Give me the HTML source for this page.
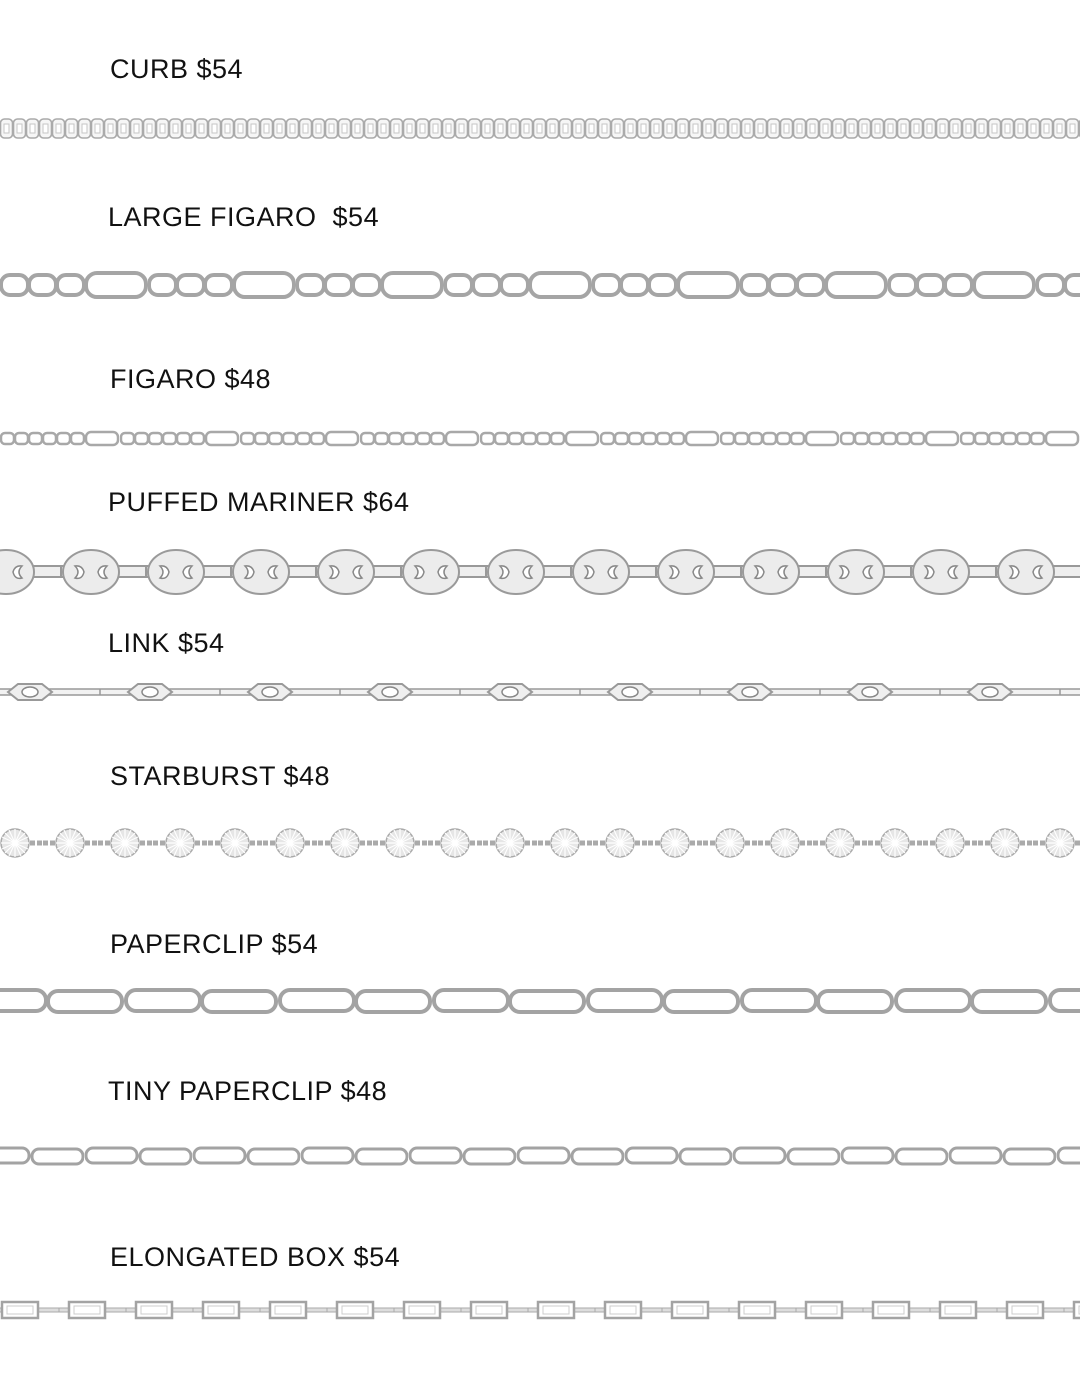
<!DOCTYPE html>
<html><head><meta charset="utf-8"><style>
html,body{margin:0;padding:0;background:#fff;}
body{width:1080px;height:1382px;position:relative;overflow:hidden;font-family:"Liberation Sans",sans-serif;}
.t{position:absolute;left:110px;font-size:27px;color:#111;letter-spacing:0.5px;line-height:1;white-space:pre;}
svg{position:absolute;left:0;top:0;}
</style></head><body>
<div class="t" style="top:56px">CURB $54</div>
<div class="t" style="top:204px;left:108px">LARGE FIGARO  $54</div>
<div class="t" style="top:366px">FIGARO $48</div>
<div class="t" style="top:489px;left:108px">PUFFED MARINER $64</div>
<div class="t" style="top:630px;left:108px">LINK $54</div>
<div class="t" style="top:763px">STARBURST $48</div>
<div class="t" style="top:931px">PAPERCLIP $54</div>
<div class="t" style="top:1078px;left:108px">TINY PAPERCLIP $48</div>
<div class="t" style="top:1244px">ELONGATED BOX $54</div>
<svg width="1080" height="1382" viewBox="0 0 1080 1382">
<defs>
<pattern id="curb" x="0" y="116" width="13" height="26" patternUnits="userSpaceOnUse">
<rect x="0.5" y="3" width="12" height="19" rx="4" fill="#f6f6f6" stroke="#aaa" stroke-width="1.6"/>
<rect x="4" y="8" width="5" height="9" fill="#fff" stroke="#c5c5c5"/>
</pattern>
<pattern id="lfig" x="0" y="268" width="148" height="34" patternUnits="userSpaceOnUse">
<rect x="1" y="7" width="27" height="20" rx="9" fill="none" stroke="#a5a5a5" stroke-width="4"/>
<rect x="29" y="7" width="27" height="20" rx="9" fill="none" stroke="#a5a5a5" stroke-width="4"/>
<rect x="57" y="7" width="27" height="20" rx="9" fill="none" stroke="#a5a5a5" stroke-width="4"/>
<rect x="86" y="5" width="60" height="24" rx="11" fill="none" stroke="#a5a5a5" stroke-width="4"/>
</pattern>
<pattern id="fig" x="0" y="428" width="120" height="20" patternUnits="userSpaceOnUse">
<g fill="none" stroke="#a8a8a8" stroke-width="2.5">
<rect x="1" y="5" width="13" height="11" rx="4"/><rect x="15" y="5" width="13" height="11" rx="4"/>
<rect x="29" y="5" width="13" height="11" rx="4"/><rect x="43" y="5" width="13" height="11" rx="4"/>
<rect x="57" y="5" width="13" height="11" rx="4"/><rect x="71" y="5" width="13" height="11" rx="4"/>
<rect x="86" y="4" width="32" height="13" rx="5"/></g>
</pattern>
<pattern id="mar" x="-24" y="540" width="85" height="64" patternUnits="userSpaceOnUse">
<rect x="0" y="26" width="85" height="11" fill="#eee" stroke="#999" stroke-width="2"/>
<ellipse cx="30" cy="32" rx="28" ry="22" fill="#ececec" stroke="#9a9a9a" stroke-width="2"/>
<path d="M14 26q6 6 0 12q7 2 9-6q-2-7-9-6z" fill="#fff" stroke="#888" stroke-width="1.5"/>
<path d="M46 26q-6 6 0 12q-7 2-9-6q2-7 9-6z" fill="#fff" stroke="#888" stroke-width="1.5"/>
</pattern>
<pattern id="link" x="-20" y="680" width="120" height="24" patternUnits="userSpaceOnUse">
<rect x="0" y="9" width="120" height="6" fill="#f2f2f2" stroke="#999" stroke-width="1.5"/>
<path d="M28 12l10-8h24l10 8-10 8h-24z" fill="#efefef" stroke="#999" stroke-width="2"/>
<ellipse cx="50" cy="12" rx="8" ry="5" fill="#fff" stroke="#888" stroke-width="1.5"/>
</pattern>
<pattern id="star" x="-12" y="826" width="55" height="34" patternUnits="userSpaceOnUse">
<path d="M0 17h55" stroke="#aaa" stroke-width="5" stroke-dasharray="5 2"/>
<circle cx="27" cy="17" r="14" fill="#e6e6e6" stroke="#aaa" stroke-width="1.5"/>
<path d="M27 3v28M13 17h28M17 7l20 20M37 7l-20 20M21 4l12 26M33 4l-12 26M14 11l26 12M40 11l-26 12" stroke="#fff" stroke-width="1.2"/>
</pattern>
<pattern id="pc" x="-30" y="984" width="154" height="34" patternUnits="userSpaceOnUse">
<rect x="2" y="6" width="74" height="21" rx="10" fill="none" stroke="#a3a3a3" stroke-width="4"/>
<rect x="78" y="7" width="74" height="21" rx="10" fill="none" stroke="#a3a3a3" stroke-width="4"/>
</pattern>
<pattern id="tpc" x="-24" y="1144" width="108" height="24" patternUnits="userSpaceOnUse">
<rect x="2" y="4" width="51" height="15" rx="7" fill="none" stroke="#a3a3a3" stroke-width="3"/>
<rect x="56" y="5" width="51" height="15" rx="7" fill="none" stroke="#a3a3a3" stroke-width="3"/>
</pattern>
<pattern id="box" x="-8" y="1300" width="67" height="20" patternUnits="userSpaceOnUse">
<rect x="0" y="8" width="67" height="4" fill="#ddd" stroke="#aaa" stroke-width="1"/>
<rect x="10" y="2" width="36" height="16" fill="#fff" stroke="#a3a3a3" stroke-width="2.5"/>
<rect x="15" y="6" width="26" height="8" fill="none" stroke="#ccc" stroke-width="1"/>
</pattern>
</defs>
<rect x="0" y="116" width="1080" height="26" fill="url(#curb)"/>
<rect x="0" y="268" width="1080" height="34" fill="url(#lfig)"/>
<rect x="0" y="428" width="1080" height="20" fill="url(#fig)"/>
<rect x="0" y="540" width="1080" height="64" fill="url(#mar)"/>
<rect x="0" y="680" width="1080" height="24" fill="url(#link)"/>
<rect x="0" y="826" width="1080" height="34" fill="url(#star)"/>
<rect x="0" y="984" width="1080" height="34" fill="url(#pc)"/>
<rect x="0" y="1144" width="1080" height="24" fill="url(#tpc)"/>
<rect x="0" y="1300" width="1080" height="20" fill="url(#box)"/>
</svg>
</body></html>
